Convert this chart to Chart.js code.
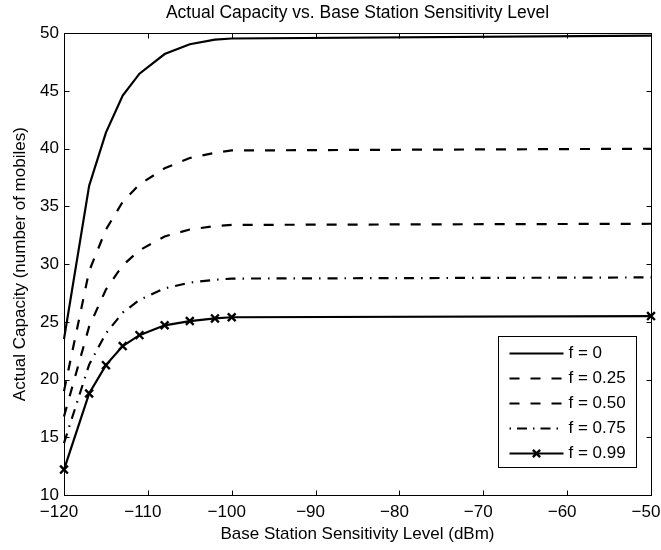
<!DOCTYPE html>
<html>
<head>
<meta charset="utf-8">
<script src="https://cdn.jsdelivr.net/npm/chart.js@4.4.1/dist/chart.umd.min.js"></script>
<style>
html,body{margin:0;padding:0;background:#fff;}
#wrap{width:661px;height:550px;position:relative;}
canvas{display:block;}
</style>
</head>
<body>
<div id="wrap"><canvas id="c" width="661" height="550"></canvas></div>
<script>
// ---- data ----
const sensitivity = [-120, -117, -115, -113, -111, -108, -105, -102, -100, -50];
const capF000 = [23.5, 36.8, 41.4, 44.6, 46.5, 48.2, 49.05, 49.45, 49.55, 49.8];
const capF025 = [19.0, 29.4, 33.0, 35.4, 36.9, 38.3, 39.2, 39.65, 39.85, 40.0];
const capF050 = [16.8, 24.6, 27.8, 29.9, 31.2, 32.4, 33.0, 33.3, 33.4, 33.5];
const capF075 = [14.5, 21.3, 24.0, 25.8, 26.9, 27.9, 28.4, 28.65, 28.75, 28.85];
const capF099 = [12.2, 18.8, 21.25, 22.9, 23.85, 24.7, 25.07, 25.3, 25.4, 25.5];
const seriesLabels = ['f = 0', 'f = 0.25', 'f = 0.50', 'f = 0.75', 'f = 0.99'];
const xTicks = [-120, -110, -100, -90, -80, -70, -60, -50];
const yTicks = [10, 15, 20, 25, 30, 35, 40, 45, 50];
const titleText = 'Actual Capacity vs. Base Station Sensitivity Level';
const xTitle = 'Base Station Sensitivity Level (dBm)';
const yTitle = 'Actual Capacity (number of mobiles)';

const FONT = 'Liberation Sans, Arial, Helvetica, sans-serif';
const FS = 17;

function pts(ys) { return sensitivity.map((x, i) => ({x: x, y: ys[i]})); }
function fmt(v) { return v < 0 ? '\u2212' + Math.abs(v) : String(v); }

const styles = [
  {dash: [], marker: false},
  {dash: [10, 11], marker: false},
  {dash: [10, 11], marker: false},
  {dash: [10, 7, 1.5, 7], marker: false},
  {dash: [], marker: true}
];
const seriesData = [capF000, capF025, capF050, capF075, capF099];

const datasets = seriesData.map((d, i) => ({
  label: seriesLabels[i],
  data: pts(d),
  borderColor: '#000',
  backgroundColor: '#000',
  borderWidth: 2.2,
  borderDash: styles[i].dash,
  pointRadius: styles[i].marker ? 5.5 : 0,
  pointStyle: 'crossRot',
  pointBorderWidth: 2.4,
  pointBorderColor: '#000',
  tension: 0,
  fill: false,
  clip: false
}));

const framePlugin = {
  id: 'frame',
  beforeDraw(chart) {
    const ctx = chart.ctx;
    ctx.save();
    ctx.fillStyle = '#fff';
    ctx.fillRect(0, 0, chart.width, chart.height);
    ctx.restore();
  },
  afterDraw(chart) {
    const {ctx, chartArea: a, scales} = chart;
    const L = Math.round(a.left) + 0.5, R = Math.round(a.right) + 0.5;
    const T = Math.round(a.top) + 0.5, B = Math.round(a.bottom) + 0.5;
    ctx.save();
    ctx.strokeStyle = '#000';
    ctx.lineWidth = 1;
    ctx.setLineDash([]);
    ctx.strokeRect(L, T, R - L, B - T);
    const tl = 5;
    ctx.beginPath();
    xTicks.forEach(v => {
      const px = Math.round(scales.x.getPixelForValue(v)) + 0.5;
      ctx.moveTo(px, B); ctx.lineTo(px, B - tl);
      ctx.moveTo(px, T); ctx.lineTo(px, T + tl);
    });
    yTicks.forEach(v => {
      const py = Math.round(scales.y.getPixelForValue(v)) + 0.5;
      ctx.moveTo(L, py); ctx.lineTo(L + tl, py);
      ctx.moveTo(R, py); ctx.lineTo(R - tl, py);
    });
    ctx.stroke();

    // legend box (inside the axes, lower right)
    const lw = 138, lh = 131;
    const lx = Math.round(a.right - 15 - lw) + 0.5;
    const ly = Math.round(a.bottom - 28 - lh) + 0.5;
    ctx.fillStyle = '#fff';
    ctx.fillRect(lx, ly, lw, lh);
    ctx.strokeRect(lx, ly, lw, lh);
    ctx.font = FS + 'px ' + FONT;
    ctx.textBaseline = 'middle';
    ctx.textAlign = 'left';
    chart.data.datasets.forEach((ds, i) => {
      const y = ly + 17 + 25 * i;
      const x0 = lx + 11, x1 = lx + 65;
      ctx.lineWidth = 2.2;
      ctx.setLineDash(i === 3 ? [1.5, 6, 10, 6] : ds.borderDash);
      ctx.beginPath();
      ctx.moveTo(x0, y); ctx.lineTo(x1, y);
      ctx.stroke();
      ctx.setLineDash([]);
      if (ds.pointRadius > 0) {
        const r = 3.6, cx = (x0 + x1) / 2;
        ctx.lineWidth = 2.4;
        ctx.beginPath();
        ctx.moveTo(cx - r, y - r); ctx.lineTo(cx + r, y + r);
        ctx.moveTo(cx - r, y + r); ctx.lineTo(cx + r, y - r);
        ctx.stroke();
      }
      ctx.fillStyle = '#000';
      ctx.fillText(ds.label, lx + 70, y);
    });
    ctx.restore();
  }
};

new Chart(document.getElementById('c'), {
  type: 'line',
  data: {datasets: datasets},
  plugins: [framePlugin],
  options: {
    responsive: false,
    animation: false,
    devicePixelRatio: 1,
    layout: {padding: {left: 0, right: 10, top: 0, bottom: 0}},
    plugins: {
      legend: {display: false},
      tooltip: {enabled: false},
      title: {
        display: true,
        fullSize: false,
        text: titleText,
        color: '#000',
        font: {family: FONT, size: 17.5, weight: 'normal'},
        padding: {top: 3, bottom: 9.3}
      }
    },
    scales: {
      x: {
        type: 'linear',
        min: -120, max: -50,
        grid: {display: false, drawTicks: false},
        border: {display: false},
        afterBuildTicks: s => { s.ticks = xTicks.map(v => ({value: v})); },
        afterFit: s => { s.height = 55; s.paddingLeft = 0; s.paddingRight = 0; },
        ticks: {
          color: '#000', padding: 7, labelOffset: -5, maxRotation: 0, autoSkip: false,
          font: {family: FONT, size: FS},
          callback: v => fmt(v)
        },
        title: {
          display: true, text: xTitle, color: '#000',
          font: {family: FONT, size: FS},
          padding: {top: 0, bottom: 5}
        }
      },
      y: {
        type: 'linear',
        min: 10, max: 50,
        grid: {display: false, drawTicks: false},
        border: {display: false},
        afterBuildTicks: s => { s.ticks = yTicks.map(v => ({value: v})); },
        afterFit: s => { s.width = 64; s.paddingTop = 0; s.paddingBottom = 0; },
        ticks: {
          color: '#000', padding: 5, autoSkip: false,
          font: {family: FONT, size: FS},
          callback: v => fmt(v)
        },
        title: {
          display: true, text: yTitle, color: '#000',
          font: {family: FONT, size: FS},
          padding: {top: 10, bottom: 0}
        }
      }
    }
  }
});
</script>
</body>
</html>
